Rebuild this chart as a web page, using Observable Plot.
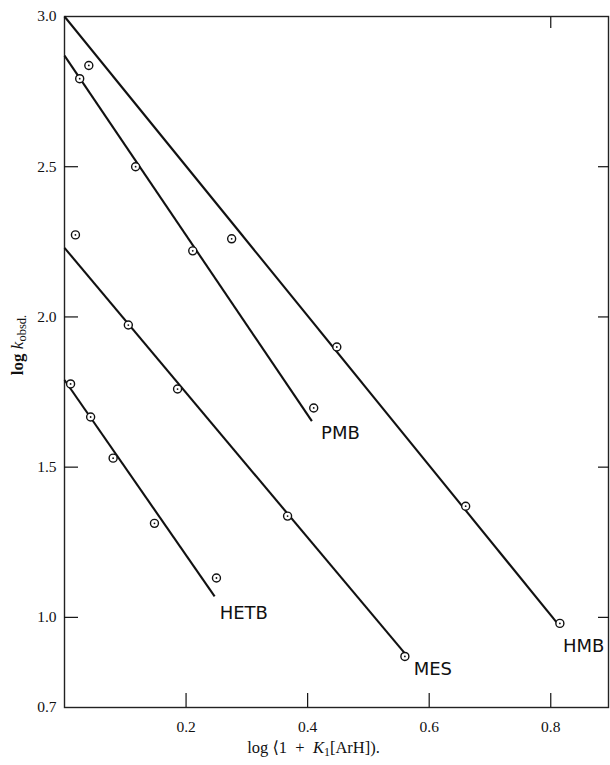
<!DOCTYPE html>
<html><head><meta charset="utf-8">
<script src="https://cdn.jsdelivr.net/npm/d3@7"></script>
<script src="https://cdn.jsdelivr.net/npm/@observablehq/plot@0.6"></script>
<style>body{margin:0;background:#fff}</style>
</head><body><div id="chart"></div>
<script>
// Observed points (x = log(1 + K1[ArH]), y = log k_obsd)
const hmbX = [0.275, 0.448, 0.660, 0.815];
const hmbY = [2.26, 1.90, 1.37, 0.98];
const pmbX = [0.025, 0.040, 0.117, 0.211, 0.410];
const pmbY = [2.793, 2.837, 2.50, 2.22, 1.697];
const mesX = [0.018, 0.105, 0.186, 0.367, 0.560];
const mesY = [2.273, 1.973, 1.76, 1.337, 0.87];
const hetbX = [0.010, 0.043, 0.080, 0.148, 0.250];
const hetbY = [1.777, 1.667, 1.53, 1.313, 1.131];

// Fitted straight lines: [xStart, yStart, xEnd, yEnd]
const series = ["HMB", "PMB", "MES", "HETB"];
const lineX0 = [0, 0, 0, 0];
const lineY0 = [3.0, 2.87, 2.23, 1.79];
const lineX1 = [0.815, 0.407, 0.56, 0.247];
const lineY1 = [0.97, 1.653, 0.88, 1.07];

// Curve labels
const labelX = [0.854, 0.454, 0.606, 0.295];
const labelY = [0.903, 1.613, 0.827, 1.013];

// Axis ticks
const xTicks = [0.2, 0.4, 0.6, 0.8];
const yLabelTicks = [3.0, 2.5, 2.0, 1.5, 1.0, 0.7];
const yInnerTicks = [2.5, 2.0, 1.5, 1.0];
const xTopTicks = [0.8];

const points = [
  ...hmbX.map((x, i) => ({x, y: hmbY[i]})),
  ...pmbX.map((x, i) => ({x, y: pmbY[i]})),
  ...mesX.map((x, i) => ({x, y: mesY[i]})),
  ...hetbX.map((x, i) => ({x, y: hetbY[i]}))
];
const lines = series.map((s, i) => ({s, x1: lineX0[i], y1: lineY0[i], x2: lineX1[i], y2: lineY1[i]}));
const labels = series.map((s, i) => ({s, x: labelX[i], y: labelY[i]}));

const svg = Plot.plot({
  width: 610, height: 765,
  marginLeft: 64, marginRight: 2, marginTop: 16, marginBottom: 58,
  style: {fontFamily: "'Liberation Serif', 'DejaVu Serif', serif", fontSize: "15.5px", color: "#111", background: "#fff"},
  x: {domain: [0, 0.895]},
  y: {domain: [0.7, 3.0]},
  marks: [
    Plot.frame({stroke: "#222", strokeWidth: 1.4}),
    Plot.axisX(xTicks, {anchor: "bottom", tickSize: -14, tickPadding: 27, tickFormat: d3.format(".1f"), label: null, strokeWidth: 1.2, style: "letter-spacing:0.8px"}),
    Plot.axisX(xTopTicks, {anchor: "top", tickSize: -11, tickFormat: () => "", label: null, strokeWidth: 1.2}),
    Plot.axisY(yLabelTicks, {anchor: "left", tickSize: 0, tickPadding: 8, tickFormat: d3.format(".1f"), label: null, style: "letter-spacing:0.8px"}),
    Plot.axisY(yInnerTicks, {anchor: "left", tickSize: -14, tickFormat: () => "", label: null, strokeWidth: 1.2}),
    Plot.axisY(yInnerTicks, {anchor: "right", tickSize: -11, tickFormat: () => "", label: null, strokeWidth: 1.2}),
    Plot.link(lines, {x1: "x1", y1: "y1", x2: "x2", y2: "y2", stroke: "#111", strokeWidth: 2.1}),
    Plot.dot(points, {x: "x", y: "y", r: 4, stroke: "#111", fill: "#fff", strokeWidth: 1.4}),
    Plot.dot(points, {x: "x", y: "y", r: 0.9, fill: "#111"}),
    Plot.text(labels, {x: "x", y: "y", text: "s", fontFamily: "'DejaVu Sans', sans-serif", fontSize: 18, fill: "#111", textAnchor: "middle", style: "letter-spacing:2.5px"}),
    Plot.text(["YLABEL"], {frameAnchor: "left", textAnchor: "middle", dx: -47, dy: -17, rotate: -90, text: d => d, fontSize: 17, fill: "#111", style: "letter-spacing:1.5px"}),
    Plot.text(["XLABEL"], {frameAnchor: "bottom", textAnchor: "middle", dx: -23, dy: 45, text: d => d, fontSize: 16.5, fill: "#111", style: "letter-spacing:0.5px"})
  ]
});

d3.select(svg).selectAll("text").each(function () {
  const t = d3.select(this);
  if (t.text() === "YLABEL") {
    t.text(null);
    t.append("tspan").attr("font-weight", "bold").text("log ");
    t.append("tspan").attr("font-style", "italic").text("k");
    t.append("tspan").attr("font-size", "12.5px").attr("dy", "3").text("obsd.");
  } else if (t.text() === "XLABEL") {
    t.text(null);
    t.append("tspan").text("log \u27E81  +  ");
    t.append("tspan").attr("font-style", "italic").text("K");
    t.append("tspan").attr("font-size", "12px").attr("dy", "3").text("1");
    t.append("tspan").attr("dy", "-3").text("[ArH]).");
  }
});
document.getElementById("chart").appendChild(svg);
</script>
</body></html>
